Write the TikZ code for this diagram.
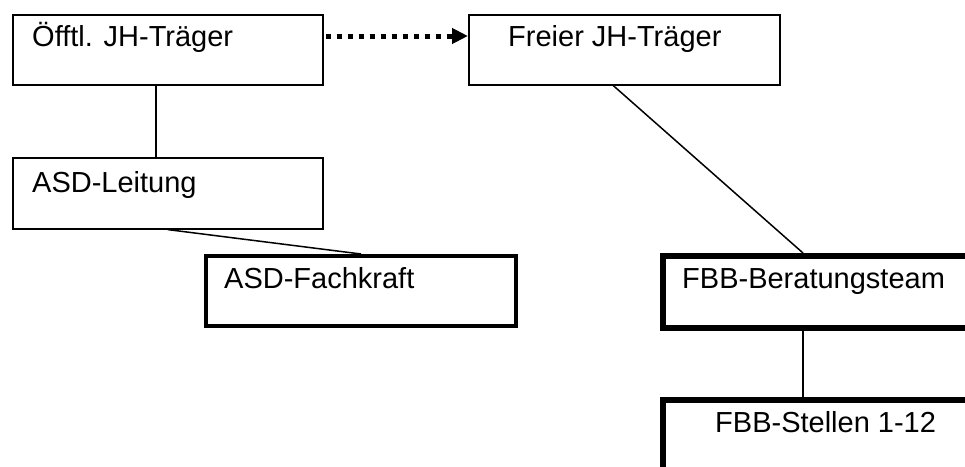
\documentclass[tikz,border=0pt]{standalone}
\usepackage{fontspec}
\setmainfont{Liberation Sans}
\usetikzlibrary{arrows.meta}

\tikzset{
  box/.style={draw=black, line width=1.6pt, rectangle, anchor=north west, inner sep=0pt, fill=white},
  boldbox/.style={box, line width=4pt},
  heavybox/.style={box, line width=5.5pt},
  lbl/.style={anchor=base west, inner sep=0pt, font=\fontsize{29}{33}\selectfont},
  link/.style={draw=black, line width=1.5pt},
  dotlink/.style={draw=black, line width=5pt, dash pattern=on 5pt off 6pt,
    -{Triangle[length=16pt,width=15pt]}},
}

\begin{document}
\begin{tikzpicture}[x=1pt,y=-1pt]
  \useasboundingbox (0,0) rectangle (965,466);
  \clip (0,0) rectangle (965,466);
  \fill[white] (0,0) rectangle (965,466);

  % helper coordinates for connector positions
  \coordinate (rowArrow) at (0,36);
  \coordinate (colTeam) at (803,0);

  % boxes
  \node[box, minimum width=310pt, minimum height=70pt] (oeff) at (12,14) {};
  \node[box, minimum width=311pt, minimum height=70pt] (freier) at (468,14) {};
  \node[box, minimum width=310pt, minimum height=71pt] (leitung) at (12,157) {};
  \node[boldbox, minimum width=310pt, minimum height=70pt] (fachkraft) at (204,254) {};
  \node[heavybox, minimum width=340pt, minimum height=72pt] (team) at (660,253) {};
  \node[heavybox, minimum width=340pt, minimum height=100pt] (stellen) at (660,397) {};

  % labels
  \node[lbl] (oeff-t) at (32,46) {Öfftl. JH-Träger};
  \node[lbl] (freier-t) at (508,46) {Freier JH-Träger};
  \node[lbl] (leitung-t) at (32,192) {ASD-Leitung};
  \node[lbl] (fachkraft-t) at (224,288) {ASD-Fachkraft};
  \node[lbl] (team-t) at (682,288) {FBB-Beratungsteam};
  \node[lbl] (stellen-t) at (715,432) {FBB-Stellen 1-12};

  % connectors
  \draw[link] ([xshift=-12pt]oeff.south) -- ([xshift=-12pt]leitung.north);
  \draw[link] (leitung.south) -- (fachkraft.north);
  \draw[link] ([xshift=-11pt]freier.south) -- (team.north -| colTeam);
  \draw[link] (team.south -| colTeam) -- (stellen.north -| colTeam);
  \draw[dotlink] ([xshift=2pt]oeff.east |- rowArrow) -- (freier.west |- rowArrow);
\end{tikzpicture}
\end{document}
